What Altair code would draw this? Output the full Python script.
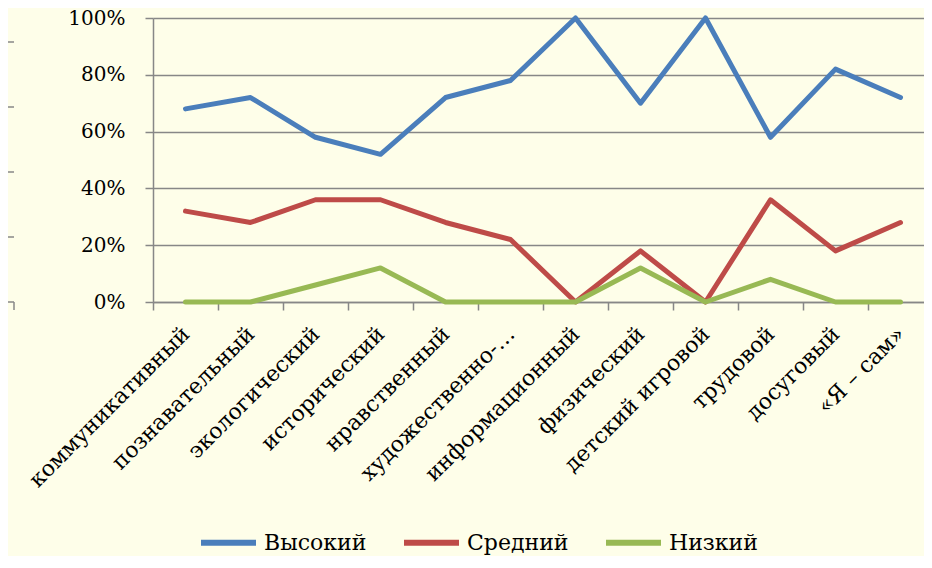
import altair as alt
import pandas as pd

categories = ["коммуникативный", "познавательный", "экологический", "исторический",
              "нравственный", "художественно-…", "информационный", "физический",
              "детский игровой", "трудовой", "досуговый", "«Я – сам»"]
high = [68, 72, 58, 52, 72, 78, 100, 70, 100, 58, 82, 72]
mid = [32, 28, 36, 36, 28, 22, 0, 18, 0, 36, 18, 28]
low = [0, 0, 6, 12, 0, 0, 0, 12, 0, 8, 0, 0]
series = ["Высокий", "Средний", "Низкий"]
colors = ["#4A7EBB", "#BE4B48", "#98B954"]
y_ticks = [0, 20, 40, 60, 80, 100]

rows = []
for name, vals in zip(series, [high, mid, low]):
    for c, v in zip(categories, vals):
        rows.append({"cat": c, "val": v, "series": name})
df = pd.DataFrame(rows)

FONT = "DejaVu Serif"
GRAY = "#878787"

x_enc = alt.X("cat:N", sort=categories, title=None,
              scale=alt.Scale(type="band", paddingInner=0, paddingOuter=0, range=[0, 780]),
              axis=alt.Axis(labelAngle=-45, labelAlign="right", labelBaseline="middle",
                            tickBand="extent", tickSize=8, labelPadding=20,
                            labelFont=FONT, labelFontSize=22, labelColor="#000000",
                            grid=False, domainColor=GRAY, tickColor=GRAY,
                            domainWidth=1.5, tickWidth=1.5, labelLimit=400))
y_enc = alt.Y("val:Q", title=None,
              scale=alt.Scale(domain=[0, 100], nice=False),
              axis=alt.Axis(values=y_ticks, labelExpr="datum.value + '%'",
                            tickSize=8, labelPadding=20, labelFont=FONT,
                            labelFontSize=20, labelColor="#000000",
                            grid=True, gridColor=GRAY, gridWidth=1.5,
                            domainColor=GRAY, tickColor=GRAY,
                            domainWidth=1.5, tickWidth=1.5))
color_enc = alt.Color("series:N", sort=series,
                      scale=alt.Scale(domain=series, range=colors),
                      legend=alt.Legend(title=None, orient="none", legendX=45, legendY=494,
                                        direction="horizontal", symbolType="stroke",
                                        symbolSize=3025, symbolStrokeWidth=6,
                                        labelFont=FONT, labelFontSize=22,
                                        labelColor="#000000", columnPadding=25,
                                        labelOffset=5))

layers = []
for name in series:
    layers.append(
        alt.Chart(df).transform_filter(alt.datum.series == name)
        .mark_line(strokeWidth=5, strokeCap="round", strokeJoin="round")
        .encode(x=x_enc, y=y_enc, color=color_enc)
    )

# fragment of a neighbouring chart's ticks at the far left edge
dummy = pd.DataFrame({"a": [0]})
for py in [24, 89, 154, 219, 284]:
    layers.append(alt.Chart(dummy).mark_rule(color=GRAY, strokeWidth=1.5)
                  .encode(x=alt.value(-153), x2=alt.value(-139), y=alt.value(py)))
layers.append(alt.Chart(dummy).mark_rule(color=GRAY, strokeWidth=1.5)
              .encode(x=alt.value(-139), y=alt.value(284), y2=alt.value(292)))

chart = alt.layer(*layers).properties(
    width=771, height=284,
    autosize=alt.AutoSizeParams(type="none"),
    padding={"left": 145, "top": 10, "right": 0, "bottom": 254},
    background="#FEFEE9",
).configure_view(stroke=None)

chart.save("out.html", embed_options={"renderer": "svg", "actions": False})
